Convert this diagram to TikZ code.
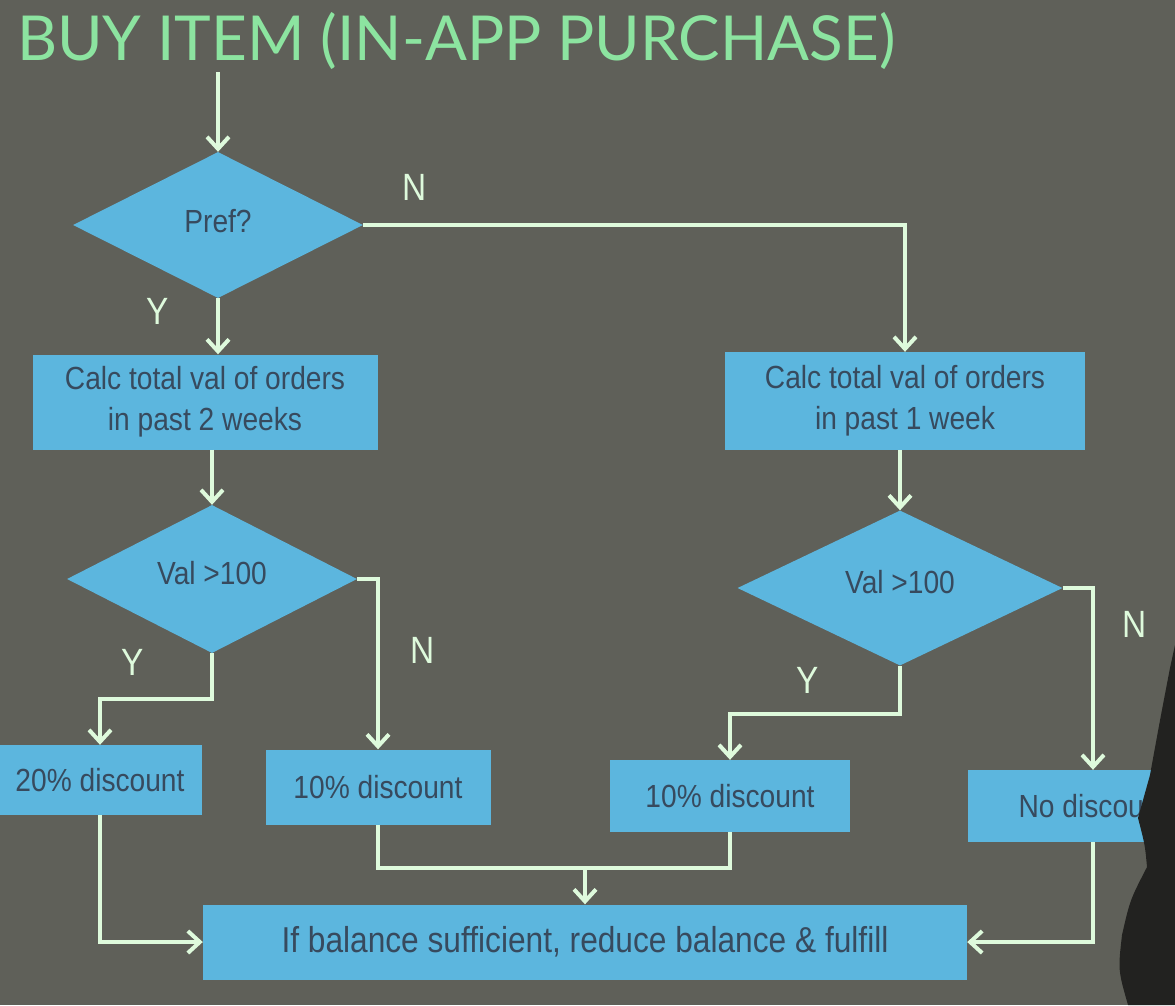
\documentclass[tikz,border=0pt]{standalone}
\usepackage{fontspec}
\usetikzlibrary{shapes.geometric,arrows.meta}
\newfontfamily\titlefont{Lato}
\newfontfamily\boxfont{Liberation Sans}[FakeStretch=0.88]

\definecolor{slide}{RGB}{95,96,89}
\definecolor{boxblue}{RGB}{92,182,222}
\definecolor{boxtext}{RGB}{55,74,94}
\definecolor{wire}{RGB}{222,250,220}
\definecolor{titlegreen}{RGB}{140,228,160}
\definecolor{shadowfig}{RGB}{34,34,32}

\tikzset{
  stepbox/.style={fill=boxblue, draw=none, inner sep=0pt, align=center,
    text=boxtext, font=\boxfont\fontsize{32}{41}\selectfont},
  decision/.style={diamond, aspect=2, fill=boxblue, draw=none, inner sep=0pt,
    text=boxtext, font=\boxfont\fontsize{32}{32}\selectfont},
  wireline/.style={draw=wire, line width=4pt},
  flow/.style={wireline, -{Straight Barb[length=12pt,width=22pt]}},
  branch/.style={text=wire, font=\boxfont\fontsize{38}{38}\selectfont, inner sep=0pt}
}

\begin{document}
\begin{tikzpicture}[x=1pt,y=-1pt]
  % slide background and page frame
  \useasboundingbox (0,0) rectangle (1175,1005);
  \clip (0,0) rectangle (1175,1005);
  \fill[slide] (0,0) rectangle (1175,1005);

  % title
  \node[anchor=base west, inner sep=0pt, text=titlegreen,
        font=\titlefont\fontsize{62}{62}\selectfont] (title) at (17,60)
        {BUY ITEM (IN-APP PURCHASE)};

  % decisions
  \node[decision, minimum width=290, minimum height=146] (pref) at (218,225) {\raisebox{8pt}{Pref?}};
  \node[decision, minimum width=290, minimum height=148] (valA) at (212,579) {\raisebox{12pt}{Val >100}};
  \node[decision, minimum width=325, minimum height=155] (valB) at (900,588) {\raisebox{12pt}{Val >100}};

  % process boxes
  \node[stepbox, minimum width=345, minimum height=95] (calcA) at (205,402)
       {Calc total val of orders\\in past 2 weeks};
  \node[stepbox, minimum width=360, minimum height=98] (calcB) at (905,401)
       {Calc total val of orders\\in past 1 week};
  \node[stepbox, minimum width=204, minimum height=70] (twenty) at (100,780) {20\% discount};
  \node[stepbox, minimum width=225, minimum height=75] (tenA) at (378,787) {10\% discount};
  \node[stepbox, minimum width=240, minimum height=72] (tenB) at (730,796) {10\% discount};
  \node[stepbox, minimum width=250, minimum height=72] (none) at (1093,806) {No discount};
  \node[stepbox, minimum width=764, minimum height=75, font=\boxfont\fontsize{36}{36}\selectfont]
       (final) at (585,942) {If balance sufficient, reduce balance \& fulfill};

  % connectors
  \coordinate (entry) at (218,72);
  \draw[flow] (entry) -- (pref.north);
  \draw[flow] (pref.east) -| (calcB.north);
  \draw[flow] (pref.south) -- (pref.south |- calcA.north);
  \draw[flow] (valA.north |- calcA.south) -- (valA.north);
  \draw[flow] (calcB.south -| valB.north) -- (valB.north);

  \draw[flow] (valA.east) -| (tenA.north);
  \draw[flow] (valA.south) -- ++(0,46) -| (twenty.north);
  \draw[flow] (valB.south) -- ++(0,48) -| (tenB.north);
  \draw[flow] (valB.east) -| (none.north);

  \coordinate (join) at (585,868);
  \draw[wireline] (tenA.south) |- (join) -| (tenB.south);
  \draw[flow] (join) -- (final.north);
  \draw[flow] (twenty.south) |- (final.west);
  \draw[flow] (none.south) |- (final.east);

  % branch labels
  \node[branch] (nPref) at (415,187) {N};
  \node[branch] (yPref) at (158,311) {Y};
  \node[branch] (yValA) at (133,662) {Y};
  \node[branch] (nValA) at (423,650) {N};
  \node[branch] (yValB) at (808,680) {Y};
  \node[branch] (nValB) at (1135,624) {N};

  % presenter standing in front of the screen
  \fill[shadowfig] (1175,645) -- (1170,668) .. controls (1160,720) .. (1150,775)
    -- (1138,818) .. controls (1145,845) .. (1147,867)
    .. controls (1130,900) .. (1122,935) .. controls (1118,970) .. (1128,1005)
    -- (1175,1005) -- cycle;
\end{tikzpicture}
\end{document}
